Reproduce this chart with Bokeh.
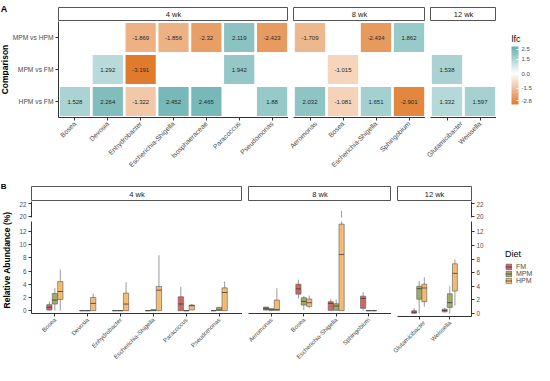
import numpy as np
from bokeh.plotting import figure
from bokeh.models import (FactorRange, Range1d, ColumnDataSource, LinearColorMapper, ColorBar,
                          FixedTicker, PrintfTickFormatter, Label, Legend, LegendItem)
from bokeh.transform import dodge
from bokeh.layouts import row, column
from bokeh.embed import file_html
from bokeh.resources import INLINE
from bokeh.core.properties import value

# ---------------- data ----------------
weeks = ["4 wk", "8 wk", "12 wk"]
comparisons = ["HPM vs FM", "MPM vs FM", "MPM vs HPM"]  # bottom -> top

hm_genera_4wk = ["Bosea", "Devosia", "Enhydrobacter", "Escherichia-Shigella", "Isosphaeraceae", "Paracoccus", "Pseudomonas"]
hm_genera_8wk = ["Aeromonas", "Bosea", "Escherichia-Shigella", "Sphingobium"]
hm_genera_12wk = ["Glutamicibacter", "Weissella"]

hm_week = ["4 wk"] * 14 + ["8 wk"] * 8 + ["12 wk"] * 3
hm_comp = (["MPM vs HPM"] * 5 + ["MPM vs FM"] * 3 + ["HPM vs FM"] * 6 +
           ["MPM vs HPM"] * 3 + ["MPM vs FM"] * 1 + ["HPM vs FM"] * 4 +
           ["MPM vs FM"] * 1 + ["HPM vs FM"] * 2)
hm_genus = ["Enhydrobacter", "Escherichia-Shigella", "Isosphaeraceae", "Paracoccus", "Pseudomonas",
            "Devosia", "Enhydrobacter", "Paracoccus",
            "Bosea", "Devosia", "Enhydrobacter", "Escherichia-Shigella", "Isosphaeraceae", "Pseudomonas",
            "Aeromonas", "Escherichia-Shigella", "Sphingobium",
            "Bosea",
            "Aeromonas", "Bosea", "Escherichia-Shigella", "Sphingobium",
            "Glutamicibacter",
            "Glutamicibacter", "Weissella"]
hm_lfc = [-1.869, -1.856, -2.32, 2.119, -2.423,
          1.292, -3.191, 1.942,
          1.528, 2.264, -1.322, 2.452, 2.465, 1.88,
          -1.709, -2.434, 1.862,
          -1.015,
          2.032, -1.081, 1.651, -2.901,
          1.538,
          1.332, 1.597]
lfc_ticks = [-2.8, -1.5, 0.0, 1.5, 2.5]

diets = ["FM", "MPM", "HPM"]
b_genera_4wk = ["Bosea", "Devosia", "Enhydrobacter", "Escherichia-Shigella", "Paracoccus", "Pseudomonas"]
b_genera_8wk = ["Aeromonas", "Bosea", "Escherichia-Shigella", "Sphingobium"]
b_genera_12wk = ["Glutamicibacter", "Weissella"]

b_week = ["4 wk"] * 18 + ["8 wk"] * 12 + ["12 wk"] * 6
b_genus = (["Bosea"] * 3 + ["Devosia"] * 3 + ["Enhydrobacter"] * 3 + ["Escherichia-Shigella"] * 3 +
           ["Paracoccus"] * 3 + ["Pseudomonas"] * 3 +
           ["Aeromonas"] * 3 + ["Bosea"] * 3 + ["Escherichia-Shigella"] * 3 + ["Sphingobium"] * 3 +
           ["Glutamicibacter"] * 3 + ["Weissella"] * 3)
b_diet = diets * 12
b_low = [0, 0, 0,   0, 0, 0,   0, 0, 0,   0, 0, 0,   0, 0, 0.1,   0, 0, 0,
         0, 0, 0,   1.85, 0.1, 0.4,   0, 0, 0,   0, 0, 0,
         0, 0, 1.0,   0.2, 0, 1.15]
b_q1 = [0.1, 1.0, 1.7,   0, 0, 0,   0, 0, 0,   0, 0, 0,   0, 0, 0.1,   0, 0.05, 0,
        0.1, 0.05, 0.05,   2.5, 0.85, 0.65,   0.05, 0.05, 0,   0.35, 0, 0,
        0.05, 2.1, 1.75,   0.25, 0.9, 3.3]
b_med = [0.5, 1.6, 2.9,   0, 0, 1.1,   0, 0, 1.0,   0, 0.05, 3.1,   1.0, 0, 0.75,   0, 0.1, 2.75,
         0.3, 0.15, 0.15,   3.3, 1.4, 1.2,   1.1, 0.7, 8.5,   1.85, 0, 0,
         0.2, 3.65, 3.75,   0.45, 1.6, 5.9]
b_q3 = [0.9, 2.6, 4.4,   0, 0, 2.0,   0, 0, 2.65,   0, 0.15, 3.65,   2.1, 0, 0.85,   0, 0.5, 3.45,
        0.55, 0.3, 1.6,   4.0, 1.95, 1.75,   1.35, 1.05, 13.1,   2.2, 0, 0,
        0.4, 4.0, 4.3,   0.65, 2.9, 7.3]
b_high = [1.4, 3.4, 6.2,   0, 0, 2.6,   0, 0, 4.3,   0, 0.15, 8.4,   3.6, 0, 1.0,   0, 0.5, 4.4,
          0.55, 0.3, 3.4,   4.7, 2.2, 2.3,   1.75, 1.7, 20.9,   2.8, 0, 0,
          0.8, 4.8, 5.3,   0.8, 4.0, 7.95]
lower_ticks = [0, 2, 4, 6, 8, 10, 12]
upper_ticks = [20, 22]

# ---------------- style ----------------
FONT = "Liberation Sans"
diet_colors = {"FM": "#CD5A52", "MPM": "#9AA65A", "HPM": "#F5B866"}
offsets = {"FM": -0.167, "MPM": 0.0, "HPM": 0.167}
BOXW = 0.16
AXC = "#333333"
LBLC = "#4d4d4d"
UPPER = (19.9, 22.3)
LOWER = (-0.43, 13.5)


def mkfig(w, h, xr, yr, ml, mr, mt, mb, xloc=None, yloc=None):
    p = figure(width=w, height=h, x_range=xr, y_range=yr, toolbar_location=None, tools="",
               output_backend="svg", x_axis_location=xloc, y_axis_location=yloc,
               min_border_left=ml, min_border_right=mr, min_border_top=mt, min_border_bottom=mb)
    p.grid.visible = False
    p.outline_line_color = None
    p.background_fill_color = "white"
    p.border_fill_color = "white"
    for ax in p.axis:
        ax.axis_line_color = AXC
        ax.axis_line_width = 1
        ax.major_tick_line_color = AXC
        ax.major_tick_out = 3
        ax.major_tick_in = 0
        ax.minor_tick_line_color = None
        ax.major_label_text_font = FONT
        ax.major_label_text_color = LBLC
        ax.major_label_standoff = 2
    return p


def mkstrip(w, h, ml, mr, mt, txt):
    s = mkfig(w, h, Range1d(0, 1), Range1d(0, 1), ml, mr, mt, 0)
    s.outline_line_color = "#555555"
    s.outline_line_width = 1
    s.add_layout(Label(x=0.5, y=0.5, text=txt, text_align="center", text_baseline="middle",
                       text_font=FONT, text_font_size="7.5px", text_color="#1a1a1a"))
    return s


# ---------------- colour mapping (gradient2 around 0) ----------------
lo_c = np.array([224, 123, 44])
hi_c = np.array([79, 163, 163])
white = np.array([255, 255, 255])
c_low, c_high = -3.2, 2.8
lim = max(abs(c_low), abs(c_high))
pal = []
for v in np.linspace(c_low, c_high, 256):
    t = abs(v) / lim
    c = white + (lo_c - white) * t if v < 0 else white + (hi_c - white) * t
    pal.append("#%02x%02x%02x" % tuple(int(round(x)) for x in c))
mapper = LinearColorMapper(palette=pal, low=c_low, high=c_high)

# ---------------- panel A ----------------
HA = 179
leftA = mkfig(9, HA, Range1d(0, 9), Range1d(HA, 0), 0, 0, 0, 0)
leftA.add_layout(Label(x=0.3, y=3, text="A", text_baseline="top", text_font=FONT,
                       text_font_size="9px", text_font_style="bold", text_color="black"))
leftA.add_layout(Label(x=4.5, y=69, text="Comparison", angle=np.pi / 2, text_align="center",
                       text_baseline="middle", text_font=FONT, text_font_size="8.5px",
                       text_font_style="bold", text_color="black"))

A_specs = [("4 wk", hm_genera_4wk, 279, 47, "left"),
           ("8 wk", hm_genera_8wk, 137, 5, None),
           ("12 wk", hm_genera_12wk, 71, 5, None)]
A_cols = [leftA]
for wk, gens, w, ml, yloc in A_specs:
    idx = [i for i, x in enumerate(hm_week) if x == wk]
    src = ColumnDataSource(dict(genus=[hm_genus[i] for i in idx], comp=[hm_comp[i] for i in idx],
                                lfc=[hm_lfc[i] for i in idx],
                                label=["%g" % hm_lfc[i] for i in idx]))
    p = mkfig(w, 158, FactorRange(factors=gens), FactorRange(factors=comparisons),
              ml, 0, 0, 62, "below", yloc)
    p.rect(x="genus", y="comp", width=0.92, height=0.9, source=src,
           fill_color={"field": "lfc", "transform": mapper}, line_color=None)
    p.text(x="genus", y="comp", text="label", source=src, text_align="center", text_baseline="middle",
           text_font=value(FONT), text_font_size="6px", text_color="#262626")
    p.xaxis.major_label_orientation = np.pi / 4
    p.xaxis.major_label_text_font_size = "6.8px"
    if yloc == "left":
        p.yaxis.major_label_text_font_size = "6.7px"
    s = mkstrip(w, 21, ml, 0, 7, wk)
    A_cols.append(column(s, p))

legA = mkfig(38, HA, Range1d(0, 38), Range1d(HA, 0), 0, 0, 0, 0)
legA.add_layout(Label(x=15, y=43, text="lfc", text_baseline="bottom", text_font=FONT,
                      text_font_size="9px", text_color="black"))
cb = ColorBar(color_mapper=mapper, location=(15, 75), orientation="vertical", width=7, height=58,
              padding=0, margin=0,
              ticker=FixedTicker(ticks=lfc_ticks), formatter=PrintfTickFormatter(format="%.1f"),
              major_label_text_font=FONT, major_label_text_font_size="6px",
              major_label_text_color=LBLC, label_standoff=3,
              major_tick_line_color="white", major_tick_in=2, major_tick_out=0,
              minor_tick_line_color=None, bar_line_color=None,
              background_fill_alpha=0, border_line_color=None)
legA.add_layout(cb, "center")
A_cols.append(legA)
panelA = row(*A_cols)

# ---------------- panel B ----------------
HB = 186
leftB = mkfig(15, HB, Range1d(0, 15), Range1d(HB, 0), 0, 0, 0, 0)
leftB.add_layout(Label(x=0.3, y=2, text="B", text_baseline="top", text_font=FONT,
                       text_font_size="8px", text_font_style="bold", text_color="black"))
leftB.add_layout(Label(x=6.5, y=80.5, text="Relative Abundance (%)", angle=np.pi / 2, text_align="center",
                       text_baseline="middle", text_font=FONT, text_font_size="8.5px",
                       text_font_style="bold", text_color="black"))

B_specs = [("4 wk", b_genera_4wk, 227, 16, 0, "left"),
           ("8 wk", b_genera_8wk, 149, 6, 0, None),
           ("12 wk", b_genera_12wk, 96, 6, 16, "right")]
B_cols = [leftB]
last_srcs = {}
for wk, gens, w, ml, mr, yloc in B_specs:
    xr = FactorRange(factors=gens, range_padding=0.21, range_padding_units="absolute")
    up = mkfig(w, 20, xr, Range1d(*UPPER), ml, mr, 0, 4, None, yloc)
    lo = mkfig(w, 144, xr, Range1d(*LOWER), ml, mr, 0, 49, "below", yloc)
    lo.xaxis.major_label_orientation = np.pi / 4
    lo.xaxis.major_label_text_font_size = "6.1px"
    if yloc is not None:
        up.yaxis.ticker = FixedTicker(ticks=upper_ticks)
        lo.yaxis.ticker = FixedTicker(ticks=lower_ticks)
        up.yaxis.major_label_text_font_size = "6.3px"
        lo.yaxis.major_label_text_font_size = "6.3px"
    for d in diets:
        idx = [i for i in range(len(b_week)) if b_week[i] == wk and b_diet[i] == d]
        cols = dict(genus=[b_genus[i] for i in idx], low=[b_low[i] for i in idx],
                    q1=[b_q1[i] for i in idx], med=[b_med[i] for i in idx],
                    q3=[b_q3[i] for i in idx], high=[b_high[i] for i in idx])
        src = ColumnDataSource(cols)
        off = offsets[d]
        xd = dodge("genus", off, range=xr)
        lo.segment(x0=xd, y0="low", x1=xd, y1="high", source=src, line_color="#808080", line_width=0.8)
        lo.vbar(x=xd, width=BOXW, bottom="q1", top="q3", source=src,
                fill_color=diet_colors[d], fill_alpha=0.9, line_color="#555555", line_width=0.6)
        lo.segment(x0=dodge("genus", off - BOXW / 2, range=xr), y0="med",
                   x1=dodge("genus", off + BOXW / 2, range=xr), y1="med",
                   source=src, line_color="#3a3a3a", line_width=0.8)
        last_srcs[d] = src
        # upper (broken) part: only whiskers that reach into the upper range
        jdx = [k for k in range(len(cols["high"])) if cols["high"][k] > UPPER[0]]
        if jdx:
            usrc = ColumnDataSource({k: [v[j] for j in jdx] for k, v in cols.items()})
            up.segment(x0=xd, y0="q3", x1=xd, y1="high", source=usrc, line_color="#808080", line_width=0.8)
    s = mkstrip(w, 22, ml, mr, 7, wk)
    B_cols.append(column(s, up, lo))

# legend panel: key glyphs reuse the 12 wk boxes' data; their genus factors are not part of
# this panel's diet axis, so only the legend keys themselves are drawn here
legB = mkfig(47, HB, FactorRange(factors=diets), Range1d(-100, -99), 0, 0, 0, 0)
items = []
for d in diets:
    rb = legB.vbar(x="genus", width=BOXW, bottom="q1", top="q3", source=last_srcs[d],
                   fill_color=diet_colors[d], fill_alpha=0.9, line_color="#555555", line_width=0.6)
    rm = legB.segment(x0="genus", y0="med", x1="genus", y1="med", source=last_srcs[d],
                      line_color="#3a3a3a", line_width=0.8)
    items.append(LegendItem(label=d, renderers=[rb, rm]))
lg = Legend(items=items, location=(18, 81), title="Diet", title_text_font=FONT,
            title_text_font_size="9px", title_text_font_style="normal", title_text_color="black",
            title_standoff=4, label_text_font=FONT, label_text_font_size="7px",
            label_text_color=LBLC, glyph_width=7, glyph_height=7, label_height=7,
            label_width=18, label_standoff=4, spacing=0, padding=0, margin=0,
            border_line_color=None, background_fill_alpha=0)
legB.add_layout(lg, "center")
B_cols.append(legB)
panelB = row(*B_cols)

layout = column(panelA, panelB)
open("out.html", "w").write(file_html(layout, INLINE))
